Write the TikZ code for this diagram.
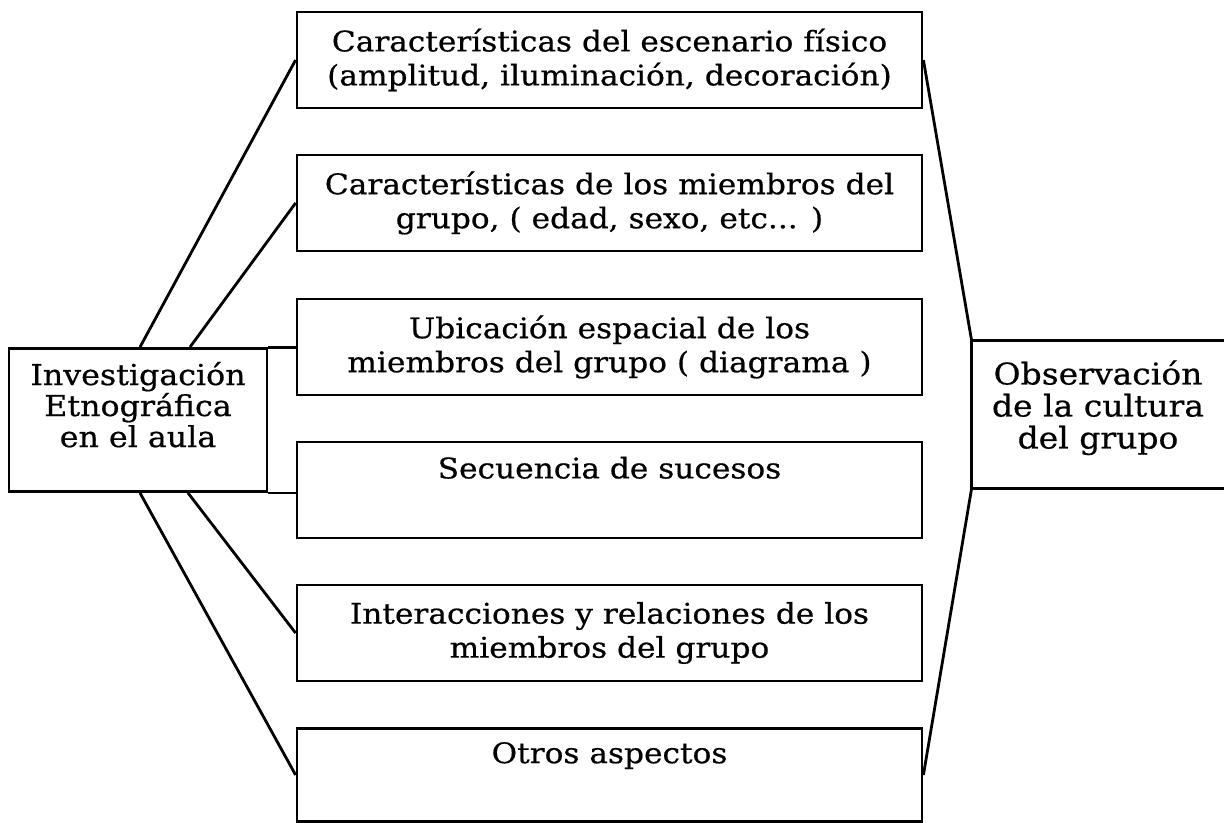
\documentclass[tikz,border=0pt]{standalone}
\usepackage{fontspec}
\setmainfont{DejaVu Serif}[FakeStretch=1.1,FakeBold=0.6]
\usepackage{tikz}

\begin{document}
\begin{tikzpicture}[x=0.5pt,y=-0.5pt,line width=1.4pt,
  every node/.style={font=\fontsize{14.2}{17}\selectfont,align=center,inner sep=2pt},
  box/.style={draw,minimum width=312.5pt,minimum height=48pt}]
\useasboundingbox (0,0) rectangle (1224,823);
\node[draw,minimum width=129pt,minimum height=71.5pt,font=\fontsize{14.4}{15.5}\selectfont] (inv) at (138,420) {Investigación\\Etnográfica\\en el aula\\\mbox{}};
\node[box] (c1) at (609.5,60) {Características del escenario físico\\(amplitud, iluminación, decoración)};
\node[box] (c2) at (609.5,203) {Características de los miembros del\\grupo, ( edad, sexo, etc... )};
\node[box] (c3) at (609.5,347) {Ubicación espacial de los\\miembros del grupo ( diagrama )};
\node[box] (c4) at (609.5,490) {Secuencia de sucesos\\[5.4pt]\mbox{}};
\node[box] (c5) at (609.5,633) {Interacciones y relaciones de los\\miembros del grupo};
\node[box,minimum height=46.5pt] (c6) at (609.5,775) {Otros aspectos\\[5.4pt]\mbox{}};
\node[minimum width=125pt,minimum height=72.5pt,font=\fontsize{15}{16}\selectfont] (obs) at (1098,414.5) {Observación\\de la cultura\\del grupo\\[-6pt]\mbox{}};
\coordinate (rim) at (1224,0);
% caja abierta a la derecha
\draw (obs.north west -| rim)--(obs.north west)--(obs.south west)--(obs.south west -| rim);
\draw (inv.north east)--(inv.north east -| c3.west);\draw (inv.south east)--(inv.south east -| c4.west);
\draw ([xshift=1pt]inv.north)--(c1.west);\draw ([xshift=26pt]inv.north)--(c2.west);
\draw ([xshift=25pt]inv.south)--(c5.west);\draw ([xshift=1pt]inv.south)--(c6.west);
\draw (c1.east)--(obs.north west);\draw (obs.south west)--(c6.east);
\end{tikzpicture}
\end{document}
